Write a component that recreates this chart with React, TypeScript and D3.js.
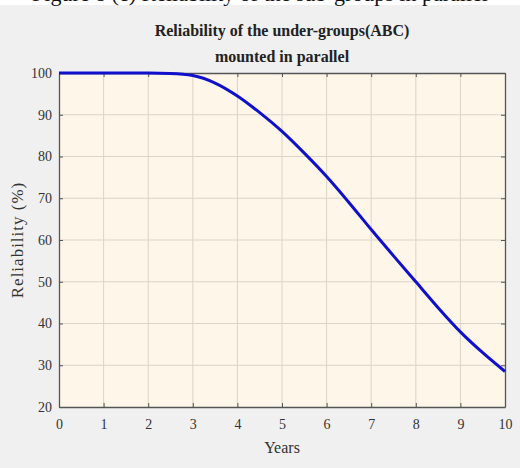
import React, { useEffect, useRef } from 'react';
import * as d3 from 'd3';

// reliability readings, every half year
const years = [0, 0.5, 1, 1.5, 2, 2.5, 3, 3.5, 4, 4.5, 5, 5.5, 6, 6.5, 7, 7.5, 8, 8.5, 9, 9.5, 10];
const reliability = [100, 100, 100, 100, 100, 99.9, 99.4, 97.6, 94.5, 90.5, 86, 80.8, 75.2, 69, 62.5, 56.2, 50, 43.8, 38, 33, 28.5];
const xTicks = [0, 1, 2, 3, 4, 5, 6, 7, 8, 9, 10];
const yTicks = [20, 30, 40, 50, 60, 70, 80, 90, 100];
const titleLines = ['Reliability of the under-groups(ABC)', 'mounted in parallel'];

export default function App() {
  const ref = useRef<SVGSVGElement>(null);

  useEffect(() => {
    const svg = d3.select(ref.current);
    svg.selectAll('*').remove();

    const W = 520, H = 468;
    const m = { left: 59, right: 15, top: 73, bottom: 61 };
    const serif = '"Liberation Serif", "DejaVu Serif", serif';

    // page strip and figure background
    svg.append('rect').attr('width', W).attr('height', H).attr('fill', '#ffffff');
    svg.append('rect').attr('y', 5).attr('width', W).attr('height', H - 5).attr('fill', '#f0f0f0');
    // caption of the document above, cut off
    svg.append('text')
      .attr('x', 260).attr('y', 1)
      .attr('text-anchor', 'middle')
      .style('font-family', serif).style('font-size', '22px').attr('fill', '#111')
      .text('Figure 8 (c) Reliability of the sub-groups in parallel');

    const x = d3.scaleLinear().domain([0, 10]).range([m.left, W - m.right]);
    const y = d3.scaleLinear().domain([20, 100]).range([H - m.bottom, m.top]);

    svg.append('rect')
      .attr('x', x(0)).attr('y', y(100))
      .attr('width', x(10) - x(0)).attr('height', y(20) - y(100))
      .attr('fill', '#fdf6e9');

    // grid
    svg.append('g').selectAll('line').data(xTicks.slice(1, -1)).enter().append('line')
      .attr('x1', d => x(d)).attr('x2', d => x(d))
      .attr('y1', y(20)).attr('y2', y(100))
      .attr('stroke', '#ddd4c4').attr('stroke-width', 1);
    svg.append('g').selectAll('line').data(yTicks.slice(1, -1)).enter().append('line')
      .attr('y1', d => y(d)).attr('y2', d => y(d))
      .attr('x1', x(0)).attr('x2', x(10))
      .attr('stroke', '#ddd4c4').attr('stroke-width', 1);

    // axes, ticks inside
    const xAxis = d3.axisBottom(x).tickValues(xTicks).tickSizeInner(-4).tickSizeOuter(0).tickPadding(12);
    const yAxis = d3.axisLeft(y).tickValues(yTicks).tickSizeInner(-4).tickSizeOuter(0).tickPadding(7);
    const gx = svg.append('g').attr('transform', `translate(0,${y(20)})`).call(xAxis);
    const gy = svg.append('g').attr('transform', `translate(${x(0)},0)`).call(yAxis);
    svg.append('g').attr('transform', `translate(0,${y(100)})`)
      .call(d3.axisTop(x).tickValues(xTicks).tickSizeInner(-4).tickSizeOuter(0).tickFormat(() => ''));
    svg.append('g').attr('transform', `translate(${x(10)},0)`)
      .call(d3.axisRight(y).tickValues(yTicks).tickSizeInner(-4).tickSizeOuter(0).tickFormat(() => ''));
    svg.selectAll('.domain').attr('stroke', '#555').attr('stroke-width', 1.3);
    svg.selectAll('.tick line').attr('stroke', '#555');
    [gx, gy].forEach(g => g.selectAll('text')
      .style('font-family', serif).style('font-size', '14px').attr('fill', '#333'));

    // curve
    const line = d3.line<number>()
      .x((d, i) => x(years[i]))
      .y(d => y(d))
      .curve(d3.curveMonotoneX);
    svg.append('path')
      .datum(reliability)
      .attr('d', line)
      .attr('fill', 'none')
      .attr('stroke', '#1010cc')
      .attr('stroke-width', 3);

    // title and labels
    svg.append('g').selectAll('text').data(titleLines).enter().append('text')
      .attr('x', (x(0) + x(10)) / 2)
      .attr('y', (d, i) => 36 + i * 26)
      .attr('text-anchor', 'middle')
      .style('font-family', serif).style('font-size', '16px').style('font-weight', 'bold')
      .attr('fill', '#222')
      .text(d => d);
    svg.append('text')
      .attr('x', (x(0) + x(10)) / 2).attr('y', 453)
      .attr('text-anchor', 'middle')
      .style('font-family', serif).style('font-size', '16px').attr('fill', '#333')
      .text('Years');
    svg.append('text')
      .attr('transform', `translate(23,${(y(20) + y(100)) / 2}) rotate(-90)`)
      .attr('text-anchor', 'middle')
      .style('font-family', serif).style('font-size', '17px').style('letter-spacing', '1px')
      .attr('fill', '#333')
      .text('Reliability (%)');
  }, []);

  return (
    <div style={{ position: 'absolute', left: 0, top: 0 }}>
      <svg ref={ref} width={520} height={468} style={{ display: 'block' }} />
    </div>
  );
}
